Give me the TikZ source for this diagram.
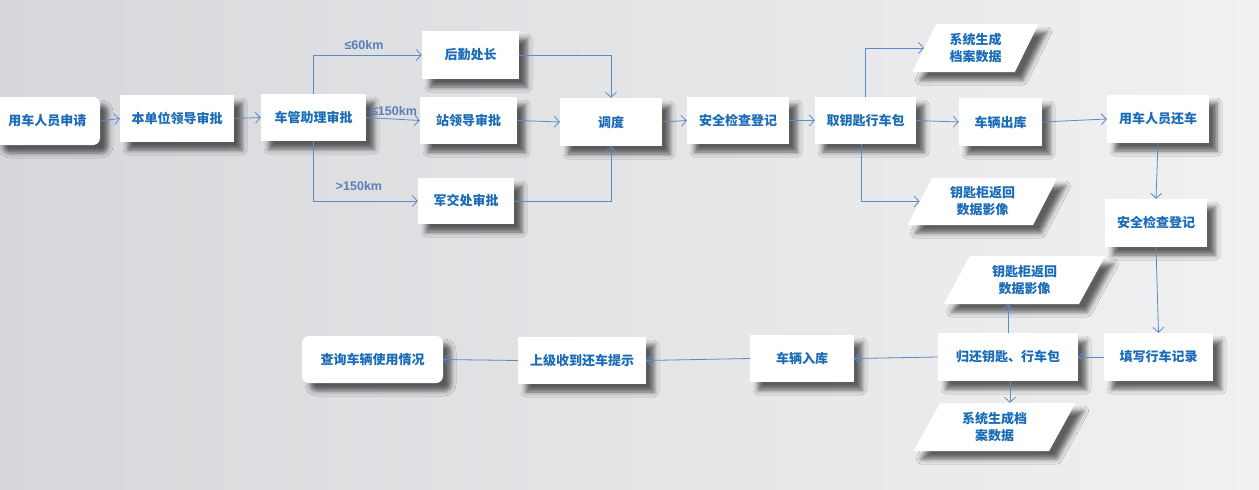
\documentclass[tikz,border=0pt]{standalone}
\usepackage{fontspec}
\newfontfamily\cjk{Noto Sans CJK SC}
\newfontfamily\kmfont{Liberation Sans}
\usetikzlibrary{arrows.meta,shapes.geometric,shadows.blur}
\definecolor{txtblue}{HTML}{1A6CB8}
\definecolor{lineblue}{HTML}{5B8AC8}
\definecolor{kmblue}{HTML}{5A7FB8}
\definecolor{bgleft}{HTML}{D6D8DB}
\definecolor{bgright}{HTML}{F1F1F2}
\begin{document}
\begin{tikzpicture}[x=1pt,y=-1pt,
 box/.style={fill=white, text=txtblue, font=\cjk\bfseries\fontsize{13}{17}\selectfont, align=center, inner sep=0pt,
   blur shadow={shadow xshift=8pt,shadow yshift=-8pt,shadow blur radius=5pt,shadow opacity=60}},
 rbox/.style={box, rounded corners=7pt},
 dbox/.style={box, shape=trapezium, trapezium left angle=62, trapezium right angle=118, trapezium stretches=true},
 arr/.style={draw=lineblue, line width=0.8pt, -{Straight Barb[length=5pt,width=11pt]}},
 km/.style={text=kmblue, font=\kmfont\bfseries\fontsize{12.5}{14}\selectfont, inner sep=0pt}]
\useasboundingbox (0,0) rectangle (1259,490);
\shade[left color=bgleft, right color=bgright] (0,0) rectangle (1259,490);

% top row
\node[rbox, minimum width=105pt, minimum height=48pt] (n1) at (47.5,121) {用车人员申请};
\node[box, minimum width=114pt, minimum height=47pt] (n2) at (177,118.5) {本单位领导审批};
\node[box, minimum width=105pt, minimum height=47pt] (n3) at (313.5,117.5) {车管助理审批};
\node[box, minimum width=97pt, minimum height=48pt] (n4) at (470.5,55) {后勤处长};
\node[box, minimum width=97pt, minimum height=47pt] (n5) at (468.5,120.5) {站领导审批};
\node[box, minimum width=96pt, minimum height=46pt] (n6) at (466,201) {军交处审批};
\node[box, minimum width=102pt, minimum height=48pt] (n7) at (611,122) {调度};
\node[box, minimum width=102pt, minimum height=47pt] (n8) at (738,120.5) {安全检查登记};
\node[box, minimum width=101pt, minimum height=47pt] (n9) at (865.5,120.5) {取钥匙行车包};
\node[dbox, minimum width=127pt, minimum height=48pt] (p1) at (975.5,48) {系统生成\\档案数据};
\node[box, minimum width=83pt, minimum height=48pt] (n10) at (1000.5,122) {车辆出库};
\node[box, minimum width=102pt, minimum height=48pt] (n11) at (1158,119) {用车人员还车};
\node[dbox, minimum width=151pt, minimum height=47pt] (p2) at (982.5,201.5) {钥匙柜返回\\数据影像};
\node[box, minimum width=102pt, minimum height=48pt] (n12) at (1156,223) {安全检查登记};

% lower part
\node[dbox, minimum width=163pt, minimum height=48pt] (p3) at (1024.5,280) {钥匙柜返回\\数据影像};
\node[box, minimum width=140pt, minimum height=48pt] (n13) at (1008,357) {归还钥匙、行车包};
\node[box, minimum width=109pt, minimum height=48pt] (n14) at (1158.5,357) {填写行车记录};
\node[dbox, minimum width=163pt, minimum height=48pt] (p4) at (994.5,427) {系统生成档\\案数据};
\node[box, minimum width=104pt, minimum height=47pt] (n15) at (802,358.5) {车辆入库};
\node[box, minimum width=128pt, minimum height=47pt] (n16) at (582,360.5) {上级收到还车提示};
\node[rbox, minimum width=141pt, minimum height=47pt] (n17) at (372.5,359.5) {查询车辆使用情况};

% labels
\node[km] (l1) at (364,45) {≤60km};
\node[km] (l2) at (394,111) {≤150km};
\node[km] (l3) at (359,186) {>150km};

% connectors
\draw[arr] (n1.east) -- (n2.west);
\draw[arr] (n2.east) -- (n3.west);
\draw[arr] (n3.north) |- (n4.west);
\draw[arr] (n3.east) -- (n5.west);
\draw[arr] (n3.south) |- (n6.west);
\draw[arr] (n4.east) -| (n7.north);
\draw[arr] (n5.east) -- (n7.west);
\draw[arr] (n6.east) -| (n7.south);
\draw[arr] (n7.east) -- (n8.west);
\draw[arr] (n8.east) -- (n9.west);
\draw[arr] (n9.north) |- (p1);
\draw[arr] (n9.east) -- (n10.west);
\draw[arr] ([xshift=-4pt]n9.south) |- (p2);
\draw[arr] (n10.east) -- (n11.west);
\draw[arr] (n11.south) -- (n12.north);
\draw[arr] (n12.south) -- (n14.north);
\draw[arr] (n14.west) -- (n13.east);
\draw[arr] (n13.north) -- (n13.north |- p3.south);
\draw[arr] ([xshift=2pt]n13.south) -- ([xshift=2pt]n13.south |- p4.north);
\draw[arr] (n13.west) -- (n15.east);
\draw[arr] (n15.west) -- (n16.east);
\draw[arr] (n16.west) -- (n17.east);
\end{tikzpicture}
\end{document}
